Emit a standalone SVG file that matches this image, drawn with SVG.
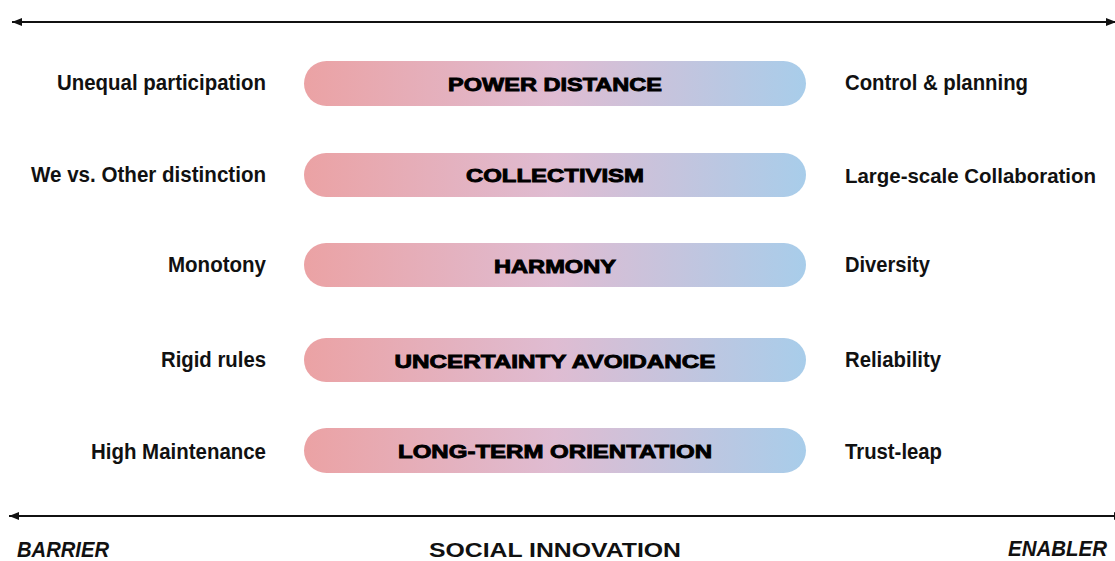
<svg xmlns="http://www.w3.org/2000/svg" width="1115" height="561" viewBox="0 0 1115 561">
  <defs>
    <linearGradient id="pillFill" x1="0" y1="0" x2="1" y2="0">
      <stop offset="0" stop-color="#eba2a4"/>
      <stop offset="0.5" stop-color="#dfbcd2"/>
      <stop offset="1" stop-color="#a8cdea"/>
    </linearGradient>
    <marker id="head" viewBox="0 0 10 8" refX="10" refY="4" markerWidth="10" markerHeight="8" markerUnits="userSpaceOnUse" orient="auto-start-reverse">
      <path d="M0,0 L10,4 L0,8 Z" fill="#111"/>
    </marker>
    <style>
      .pill { fill: url(#pillFill); }
      .dim { font-family: "Liberation Sans", Arial, sans-serif; font-weight: 700; font-size: 19px; fill: #000; stroke: #000; stroke-width: 0.9px; text-anchor: middle; }
      .side { font-family: "Liberation Sans", Arial, sans-serif; font-weight: 700; font-size: 22.5px; fill: #111; }
      .compact { font-size: 21px; }
      .left { text-anchor: end; }
      .right { text-anchor: start; }
      .axis { stroke: #111; stroke-width: 2; fill: none; }
      .pole { font-family: "Liberation Sans", Arial, sans-serif; font-weight: 700; font-style: italic; font-size: 22px; fill: #111; }
      .title { font-family: "Liberation Sans", Arial, sans-serif; font-weight: 700; font-size: 20px; fill: #111; text-anchor: middle; }
    </style>
  </defs>

  <rect width="1115" height="561" fill="#fff"/>

  <!-- axes -->
  <g id="connectors">
    <line class="axis" x1="12" y1="22" x2="1116" y2="22" marker-start="url(#head)" marker-end="url(#head)"/>
    <line class="axis" x1="9" y1="516" x2="1124" y2="516" marker-start="url(#head)" marker-end="url(#head)"/>
  </g>

  <!-- cultural dimensions -->
  <g id="power-distance">
    <rect class="pill" x="304" y="61" width="502" height="45" rx="22.5"/>
    <text class="dim" x="555" y="91" textLength="214" lengthAdjust="spacingAndGlyphs">POWER DISTANCE</text>
    <text class="side left" x="266" y="90" textLength="209" lengthAdjust="spacingAndGlyphs">Unequal participation</text>
    <text class="side right" x="845" y="90" textLength="183" lengthAdjust="spacingAndGlyphs">Control &amp; planning</text>
  </g>

  <g id="collectivism">
    <rect class="pill" x="304" y="153" width="502" height="44" rx="22"/>
    <text class="dim" x="555" y="182" textLength="178" lengthAdjust="spacingAndGlyphs">COLLECTIVISM</text>
    <text class="side left" x="266" y="182" textLength="235" lengthAdjust="spacingAndGlyphs">We vs. Other distinction</text>
    <text class="side right compact" x="845" y="183" textLength="251" lengthAdjust="spacingAndGlyphs">Large-scale Collaboration</text>
  </g>

  <g id="harmony">
    <rect class="pill" x="304" y="243" width="502" height="44" rx="22"/>
    <text class="dim" x="555" y="273" textLength="122" lengthAdjust="spacingAndGlyphs">HARMONY</text>
    <text class="side left" x="266" y="272" textLength="98" lengthAdjust="spacingAndGlyphs">Monotony</text>
    <text class="side right" x="845" y="272" textLength="85" lengthAdjust="spacingAndGlyphs">Diversity</text>
  </g>

  <g id="uncertainty-avoidance">
    <rect class="pill" x="304" y="338" width="502" height="44" rx="22"/>
    <text class="dim" x="555" y="368" textLength="321" lengthAdjust="spacingAndGlyphs">UNCERTAINTY AVOIDANCE</text>
    <text class="side left" x="266" y="367" textLength="105" lengthAdjust="spacingAndGlyphs">Rigid rules</text>
    <text class="side right" x="845" y="367" textLength="96" lengthAdjust="spacingAndGlyphs">Reliability</text>
  </g>

  <g id="long-term-orientation">
    <rect class="pill" x="304" y="428" width="502" height="45" rx="22.5"/>
    <text class="dim" x="555" y="458" textLength="314" lengthAdjust="spacingAndGlyphs">LONG-TERM ORIENTATION</text>
    <text class="side left" x="266" y="459" textLength="175" lengthAdjust="spacingAndGlyphs">High Maintenance</text>
    <text class="side right" x="845" y="459" textLength="97" lengthAdjust="spacingAndGlyphs">Trust-leap</text>
  </g>

  <!-- axis labels -->
  <g id="axis-labels">
    <text class="pole" x="17" y="557" textLength="92" lengthAdjust="spacingAndGlyphs">BARRIER</text>
    <text class="title" x="555" y="557" textLength="252" lengthAdjust="spacingAndGlyphs">SOCIAL INNOVATION</text>
    <text class="pole" x="1008" y="556" textLength="99" lengthAdjust="spacingAndGlyphs">ENABLER</text>
  </g>
</svg>
